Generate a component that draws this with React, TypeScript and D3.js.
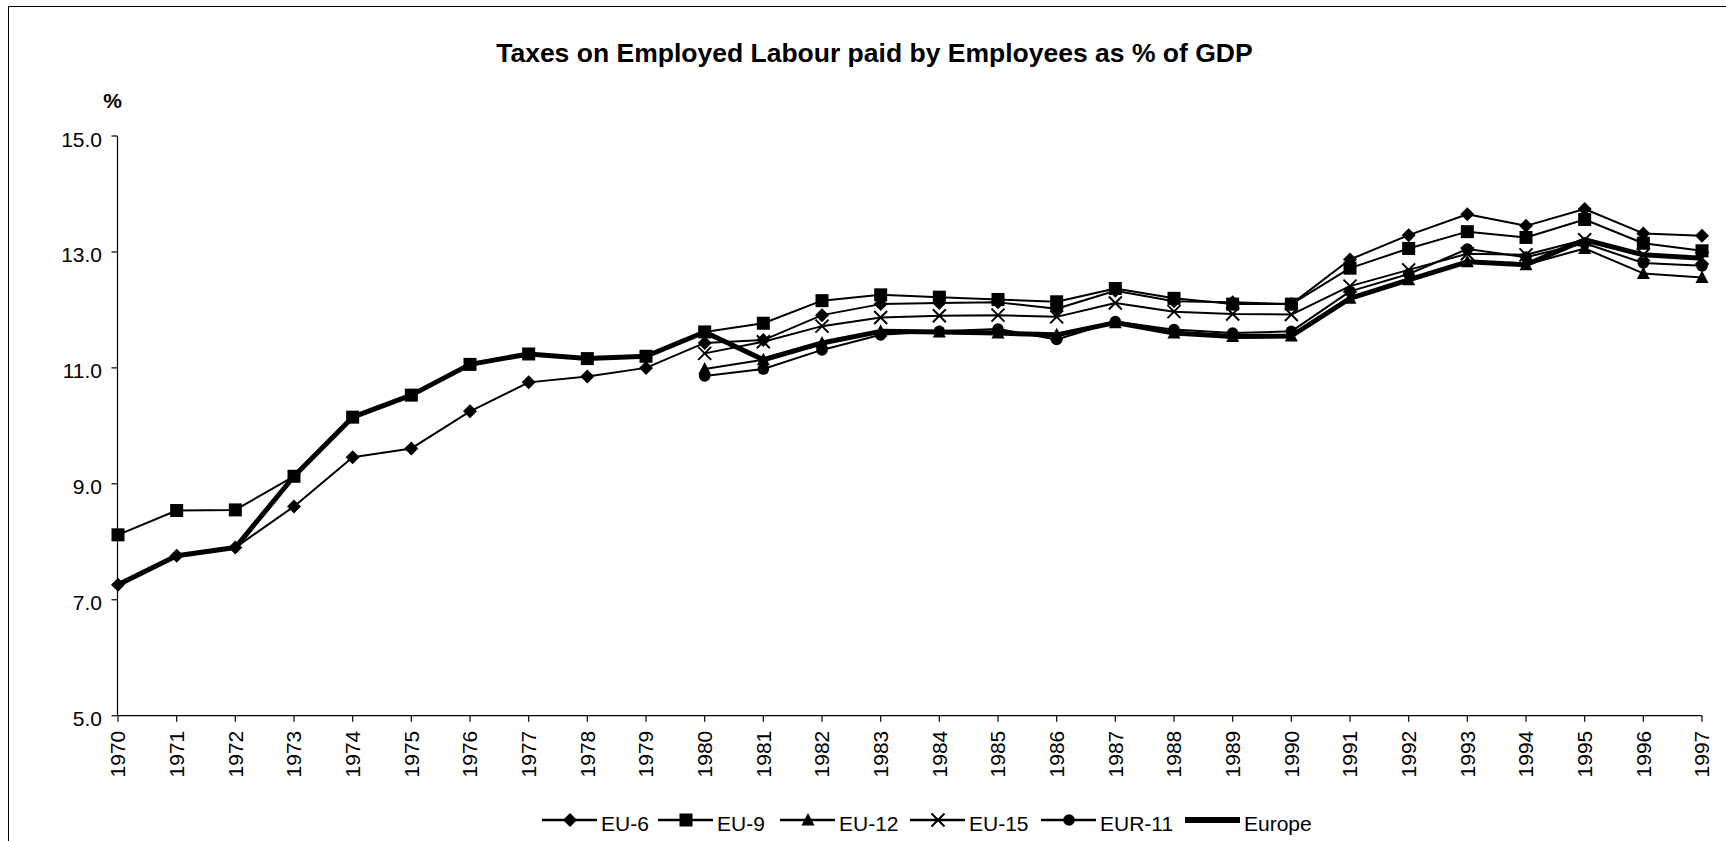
import React from 'react';
import * as d3 from 'd3';

const years = d3.range(1970, 1998);
const laterYears = d3.range(1980, 1998);

const eu6 = [7.26, 7.76, 7.9, 8.61, 9.46, 9.61, 10.25, 10.75, 10.85, 11.0, 11.43, 11.48, 11.91, 12.1, 12.12, 12.13, 12.02, 12.33, 12.15, 12.13, 12.1, 12.87, 13.29, 13.65, 13.45, 13.74, 13.32, 13.28];
const eu9 = [8.12, 8.54, 8.55, 9.13, 10.15, 10.53, 11.06, 11.24, 11.16, 11.2, 11.62, 11.77, 12.16, 12.26, 12.22, 12.18, 12.14, 12.37, 12.2, 12.1, 12.1, 12.72, 13.06, 13.35, 13.25, 13.56, 13.15, 13.02];
const eu12 = [10.98, 11.14, 11.43, 11.63, 11.62, 11.6, 11.57, 11.78, 11.6, 11.54, 11.55, 12.2, 12.52, 12.83, 12.78, 13.06, 12.63, 12.56];
const eu15 = [11.25, 11.45, 11.72, 11.87, 11.9, 11.91, 11.88, 12.12, 11.97, 11.93, 11.92, 12.41, 12.69, 12.97, 12.95, 13.21, 12.95, 12.89];
const eur11 = [10.86, 10.98, 11.31, 11.57, 11.63, 11.67, 11.49, 11.8, 11.66, 11.6, 11.63, 12.32, 12.62, 13.05, 12.91, 13.15, 12.81, 12.76];
const europe = [7.26, 7.76, 7.9, 9.13, 10.15, 10.53, 11.06, 11.24, 11.16, 11.2, 11.62, 11.14, 11.43, 11.63, 11.62, 11.6, 11.57, 11.78, 11.6, 11.54, 11.55, 12.2, 12.52, 12.83, 12.78, 13.21, 12.95, 12.89];

const yTicks = [5, 7, 9, 11, 13, 15];

type Marker = 'diamond' | 'square' | 'triangle' | 'cross' | 'circle' | 'none';

const series: { name: string; x: number[]; values: number[]; marker: Marker; width: number }[] = [
  { name: 'EU-6', x: years, values: eu6, marker: 'diamond', width: 2 },
  { name: 'EU-9', x: years, values: eu9, marker: 'square', width: 2 },
  { name: 'EU-12', x: laterYears, values: eu12, marker: 'triangle', width: 2 },
  { name: 'EU-15', x: laterYears, values: eu15, marker: 'cross', width: 2 },
  { name: 'EUR-11', x: laterYears, values: eur11, marker: 'circle', width: 2 },
  { name: 'Europe', x: years, values: europe, marker: 'none', width: 5 },
];

const font = '"Liberation Sans", Arial, sans-serif';

function MarkerShape({ type, cx, cy }: { type: Marker; cx: number; cy: number }) {
  switch (type) {
    case 'diamond':
      return <path d={`M${cx},${cy - 7}L${cx + 7},${cy}L${cx},${cy + 7}L${cx - 7},${cy}Z`} fill="#000" />;
    case 'square':
      return <rect x={cx - 6.5} y={cy - 6.5} width={13} height={13} fill="#000" />;
    case 'triangle':
      return <path d={`M${cx},${cy - 7}L${cx + 6.5},${cy + 5.5}L${cx - 6.5},${cy + 5.5}Z`} fill="#000" />;
    case 'circle':
      return <circle cx={cx} cy={cy} r={5.8} fill="#000" />;
    case 'cross':
      return (
        <path
          d={`M${cx - 6.5},${cy - 6.5}L${cx + 6.5},${cy + 6.5}M${cx + 6.5},${cy - 6.5}L${cx - 6.5},${cy + 6.5}`}
          stroke="#000"
          strokeWidth={2}
          fill="none"
        />
      );
    default:
      return null;
  }
}

export default function App() {
  const x = d3.scaleLinear().domain([1970, 1997]).range([118, 1702]);
  const y = d3.scaleLinear().domain([5, 15]).range([715.7, 136]);

  const line = d3
    .line<[number, number]>()
    .x(d => x(d[0]))
    .y(d => y(d[1]));

  // legend positions: [line start, text start]
  const legendItems = series.map((s, i) => ({ ...s, lx: [542, 658, 780, 910, 1041, 1185][i] }));

  return (
    <svg
      width={1726}
      height={841}
      style={{ position: 'absolute', left: 0, top: 0, display: 'block', background: '#fff' }}
      fontFamily={font}
    >
      <rect x={8.5} y={6.5} width={1800} height={900} fill="#fff" stroke="#000" strokeWidth={1} />

      <text x={874.4} y={61.5} textAnchor="middle" fontSize={26.5} fontWeight="bold">
        Taxes on Employed Labour paid by Employees as % of GDP
      </text>
      <text x={112.5} y={108} textAnchor="middle" fontSize={21} fontWeight="bold">
        %
      </text>

      {/* y axis */}
      <line x1={117.5} x2={117.5} y1={y(15)} y2={y(5)} stroke="#000" strokeWidth={1.2} />
      {yTicks.map(t => (
        <g key={t}>
          <line x1={111.5} x2={117.5} y1={y(t)} y2={y(t)} stroke="#000" strokeWidth={1.2} />
          <text x={102} y={y(t) + 10.5} textAnchor="end" fontSize={21}>
            {t.toFixed(1)}
          </text>
        </g>
      ))}

      {/* x axis */}
      <line x1={x(1970)} x2={x(1997)} y1={y(5)} y2={y(5)} stroke="#000" strokeWidth={1.2} />
      {years.map(yr => (
        <g key={yr}>
          <line x1={x(yr)} x2={x(yr)} y1={y(5)} y2={y(5) + 6} stroke="#000" strokeWidth={1.2} />
          <text
            transform={`translate(${x(yr)},${y(5) + 15}) rotate(-90)`}
            textAnchor="end"
            dy="0.35em"
            fontSize={21}
          >
            {yr}
          </text>
        </g>
      ))}

      {/* series */}
      {series.map(s => {
        const pts = s.x.map((yr, i) => [yr, s.values[i]] as [number, number]);
        return (
          <g key={s.name}>
            <path d={line(pts) || ''} fill="none" stroke="#000" strokeWidth={s.width} strokeLinejoin="round" />
            {pts.map(p => (
              <MarkerShape key={p[0]} type={s.marker} cx={x(p[0])} cy={y(p[1])} />
            ))}
          </g>
        );
      })}

      {/* legend */}
      {legendItems.map(s => (
        <g key={s.name}>
          <line x1={s.lx} x2={s.lx + 55} y1={820} y2={820} stroke="#000" strokeWidth={s.width === 5 ? 6 : 2.5} />
          <MarkerShape type={s.marker} cx={s.lx + 28} cy={820} />
          <text x={s.lx + 59} y={831} fontSize={21}>
            {s.name}
          </text>
        </g>
      ))}
    </svg>
  );
}
